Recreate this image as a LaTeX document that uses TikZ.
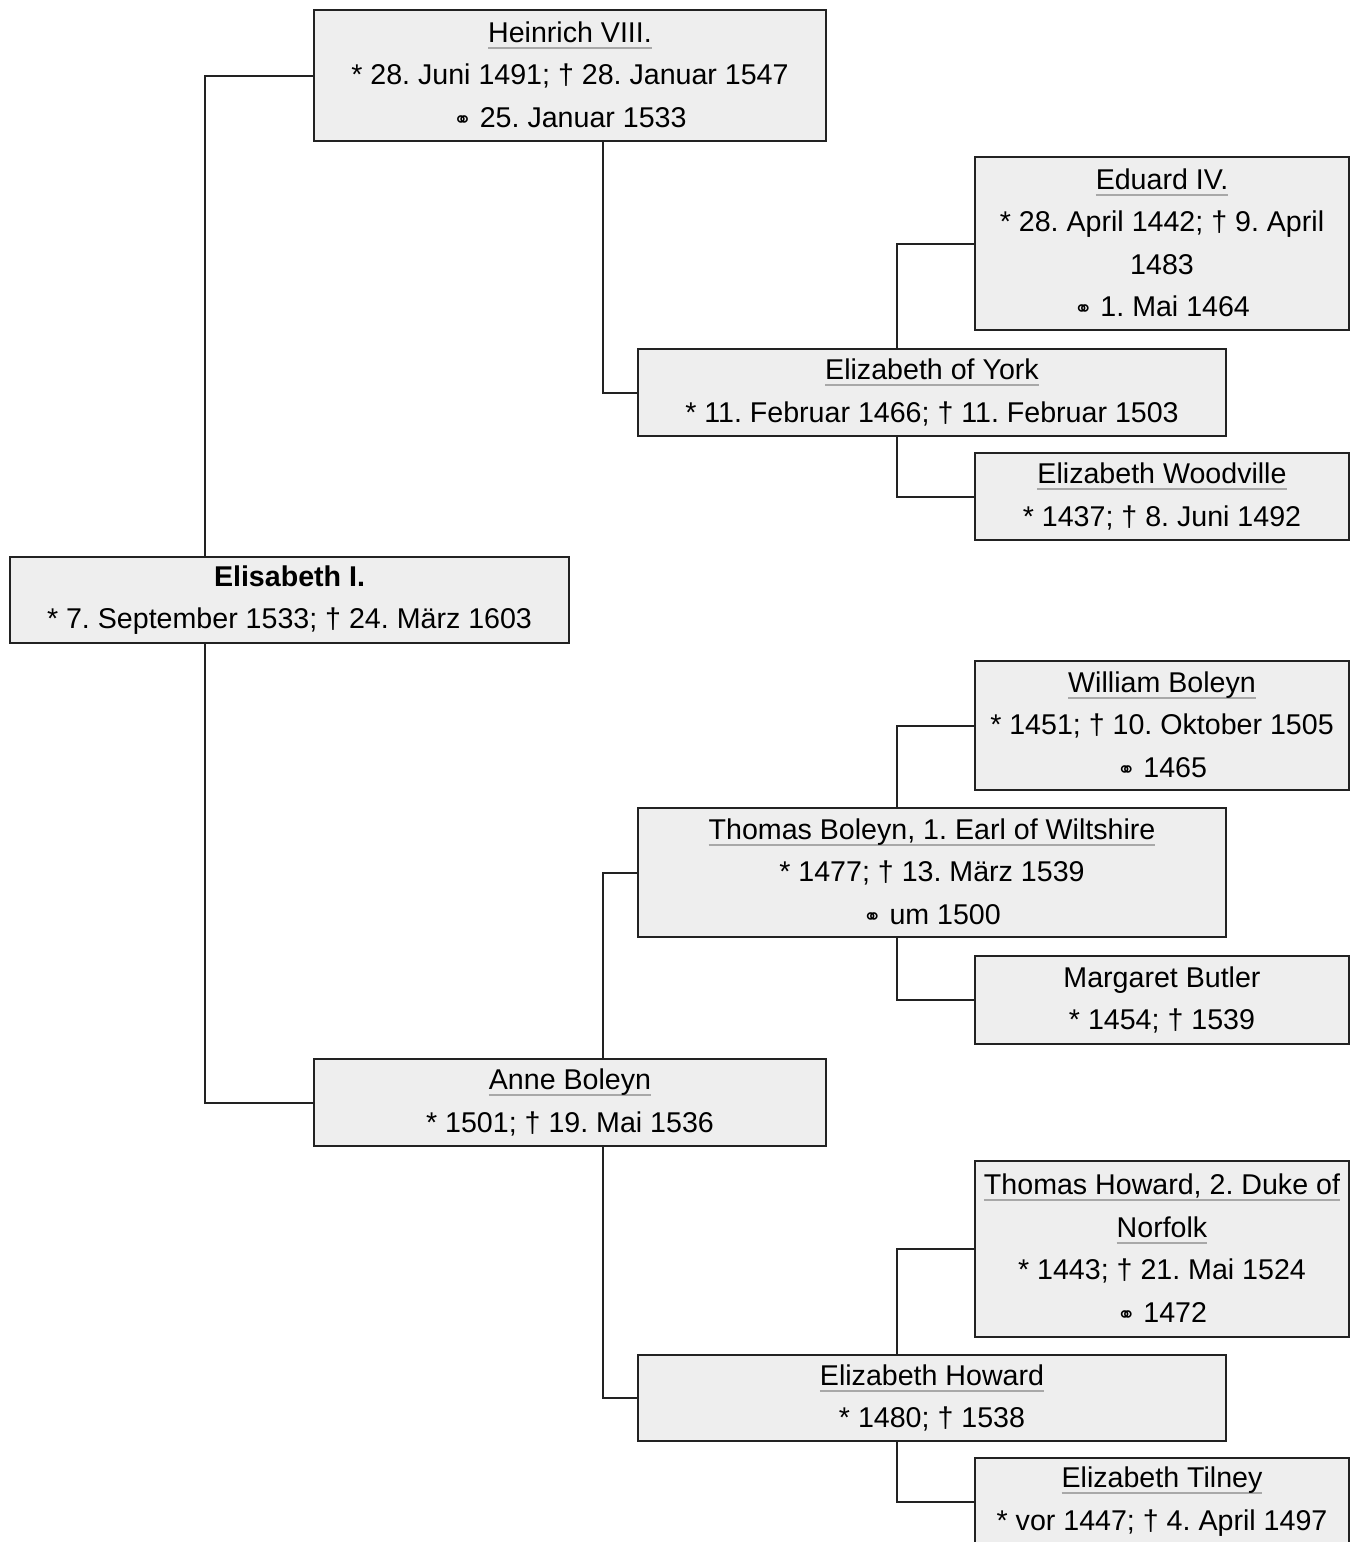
\documentclass[tikz,border=0pt]{standalone}
\usepackage{fontspec}
\setmainfont{Liberation Sans}
\newfontfamily\pMarrFont{DejaVu Sans}
\usepackage{xcolor}
\frenchspacing
\definecolor{boxfill}{HTML}{EEEEEE}
\definecolor{boxline}{HTML}{222222}
\definecolor{nameline}{HTML}{A8A8A8}
\newcommand{\pStrutTop}{\rule{0pt}{22pt}}
\newcommand{\pStrutBot}{\rule[-1pt]{0pt}{1pt}}
\newcommand{\pName}[1]{\setbox0\hbox{#1}\rlap{\textcolor{nameline}{\rule[-3.2pt]{\wd0}{1pt}}}\box0}
\newcommand{\pMarr}{{\pMarrFont\fontsize{11pt}{11pt}\selectfont ⚭}}
\begin{document}
\begin{tikzpicture}[x=0.5pt,y=-0.5pt,
  person/.style={draw=boxline, line width=1pt, fill=boxfill, inner sep=0pt, align=center,
    font=\fontsize{14.3pt}{21.25pt}\selectfont, execute at begin node=\pStrutTop, execute at end node=\pStrutBot},
  narrow/.style={person, minimum width=187pt},
  middle/.style={person, minimum width=294pt},
  wide/.style={person, minimum width=256pt},
  link/.style={draw=boxline, line width=1pt}]
\useasboundingbox (0,0) rectangle (1358,1542);
\node[person, minimum width=279.5pt, minimum height=43pt] (elisabeth) at (289.5,600) {\textbf{Elisabeth I.}\\{}* 7. September 1533; † 24. März 1603};
\node[wide, minimum height=65.5pt] (heinrich) at (570,75.5) {\pName{Heinrich VIII.}\\{}* 28. Juni 1491; † 28. Januar 1547\\\pMarr{} 25. Januar 1533};
\node[wide, minimum height=43.5pt] (anne) at (570,1102.5) {\pName{Anne Boleyn}\\{}* 1501; † 19. Mai 1536};
\node[middle, minimum height=43.5pt] (york) at (932,392.5) {\pName{Elizabeth of York}\\{}* 11. Februar 1466; † 11. Februar 1503};
\node[middle, minimum height=64.5pt] (tboleyn) at (932,872.5) {\pName{Thomas Boleyn, 1. Earl of Wiltshire}\\{}* 1477; † 13. März 1539\\\pMarr{} um 1500};
\node[middle, minimum height=43pt] (ehoward) at (932,1398) {\pName{Elizabeth Howard}\\{}* 1480; † 1538};
\node[narrow, minimum height=86.5pt] (eduard) at (1162,243.5) {\pName{Eduard IV.}\\{}* 28. April 1442; † 9. April\\1483\\\pMarr{} 1. Mai 1464};
\node[narrow, minimum height=43.5pt] (woodville) at (1162,496.5) {\pName{Elizabeth Woodville}\\{}* 1437; † 8. Juni 1492};
\node[narrow, minimum height=64.5pt] (william) at (1162,725.5) {\pName{William Boleyn}\\{}* 1451; † 10. Oktober 1505\\\pMarr{} 1465};
\node[narrow, minimum height=44pt] (margaret) at (1162,1000) {Margaret Butler\\{}* 1454; † 1539};
\node[narrow, minimum height=88pt] (thoward) at (1162,1249) {\pName{Thomas Howard, 2. Duke of}\\\pName{Norfolk}\\{}* 1443; † 21. Mai 1524\\\pMarr{} 1472};
\node[narrow, minimum height=43.5pt] (tilney) at (1162,1501.5) {\pName{Elizabeth Tilney}\\{}* vor 1447; † 4. April 1497};
% parents of Elisabeth
\draw[link] ([xshift=-42.25pt]elisabeth.north) |- (heinrich.west);
\draw[link] ([xshift=-42.25pt]elisabeth.south) |- (anne.west);
% grandparents
\draw[link] ([xshift=16.5pt]heinrich.south) |- (york.west);
\draw[link] ([xshift=16.5pt]anne.north) |- (tboleyn.west);
\draw[link] ([xshift=16.5pt]anne.south) |- (ehoward.west);
% great-grandparents
\draw[link] ([xshift=-17.5pt]york.north) |- (eduard.west);
\draw[link] ([xshift=-17.5pt]york.south) |- (woodville.west);
\draw[link] ([xshift=-17.5pt]tboleyn.north) |- (william.west);
\draw[link] ([xshift=-17.5pt]tboleyn.south) |- (margaret.west);
\draw[link] ([xshift=-17.5pt]ehoward.north) |- (thoward.west);
\draw[link] ([xshift=-17.5pt]ehoward.south) |- (tilney.west);
\end{tikzpicture}
\end{document}
